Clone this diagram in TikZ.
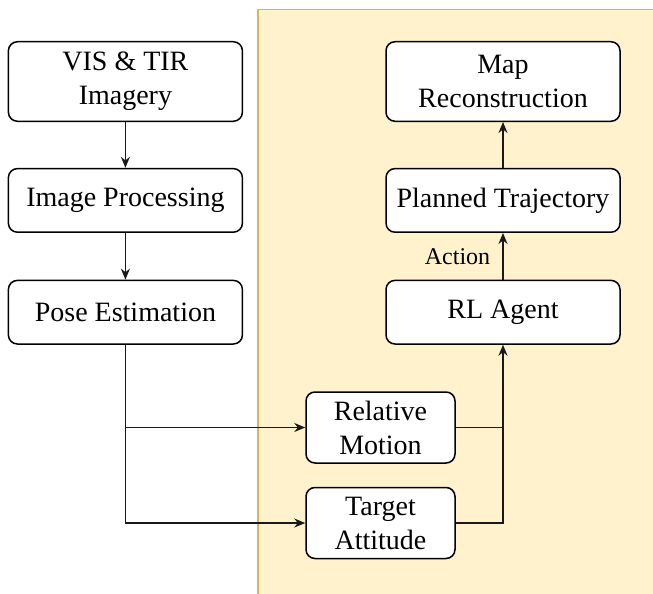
\documentclass[tikz,border=0pt]{standalone}
\usepackage{fontspec}
\setmainfont{Liberation Serif}
\usetikzlibrary{arrows.meta}
\definecolor{bgfill}{HTML}{FFF2CC}
\definecolor{bgline}{HTML}{D6B656}
\begin{document}
\begin{tikzpicture}[x=1pt,y=-1pt,
  box/.style={draw=black,line width=1.5pt,rounded corners=9pt,fill=white,
    align=center,inner sep=0pt,font=\fontsize{28}{34}\selectfont},
  widebox/.style={box,minimum width=234pt},
  smallbox/.style={box,minimum width=149pt,minimum height=71pt},
  conn/.style={line width=1.6pt,draw=black!90},
  arr/.style={conn,-{Stealth[length=11pt,width=9pt]}},
  lbl/.style={font=\fontsize{24}{28}\selectfont,inner sep=0pt}]
\useasboundingbox (0,0) rectangle (653,594);
\fill[bgfill] (258,9.5) rectangle (653,594);
\draw[bgline,line width=1.2pt] (258,594) -- (258,9.5) -- (653,9.5);

\node[widebox,minimum height=79.5pt] (vis) at (125.4,81.5) {VIS \& TIR\\Imagery};
\node[widebox,minimum height=63.6pt] (proc) at (125.4,200.4) {Image Processing};
\node[widebox,minimum height=63.6pt] (pose) at (125.4,312.2) {Pose Estimation};
\node[widebox,minimum height=79.5pt] (map) at (503,81.5) {Map\\Reconstruction};
\node[widebox,minimum height=63.6pt] (plan) at (503,200.4) {Planned Trajectory};
\node[widebox,minimum height=63.6pt] (rl) at (503,312.2) {RL Agent};
\node[smallbox] (rel) at (380.5,427.5) {Relative\\Motion};
\node[smallbox] (tgt) at (380.5,523) {Target\\Attitude};

\coordinate (split) at (pose.south |- tgt.west);
\coordinate (mid) at (pose.south |- rel.west);

\draw[arr] (vis) -- (proc);
\draw[arr] (proc) -- (pose);
\draw[conn] (pose.south) -- (split);
\draw[arr] (mid) -- (rel.west);
\draw[arr] (split) -- (tgt.west);
\draw[arr] (rel.east) -| (rl.south);
\draw[conn] (tgt.east) -| (rl.south |- rel.east);
\draw[arr] (rl) -- node[lbl,left=12pt] {Action} (plan);
\draw[arr] (plan) -- (map);
\end{tikzpicture}
\end{document}
